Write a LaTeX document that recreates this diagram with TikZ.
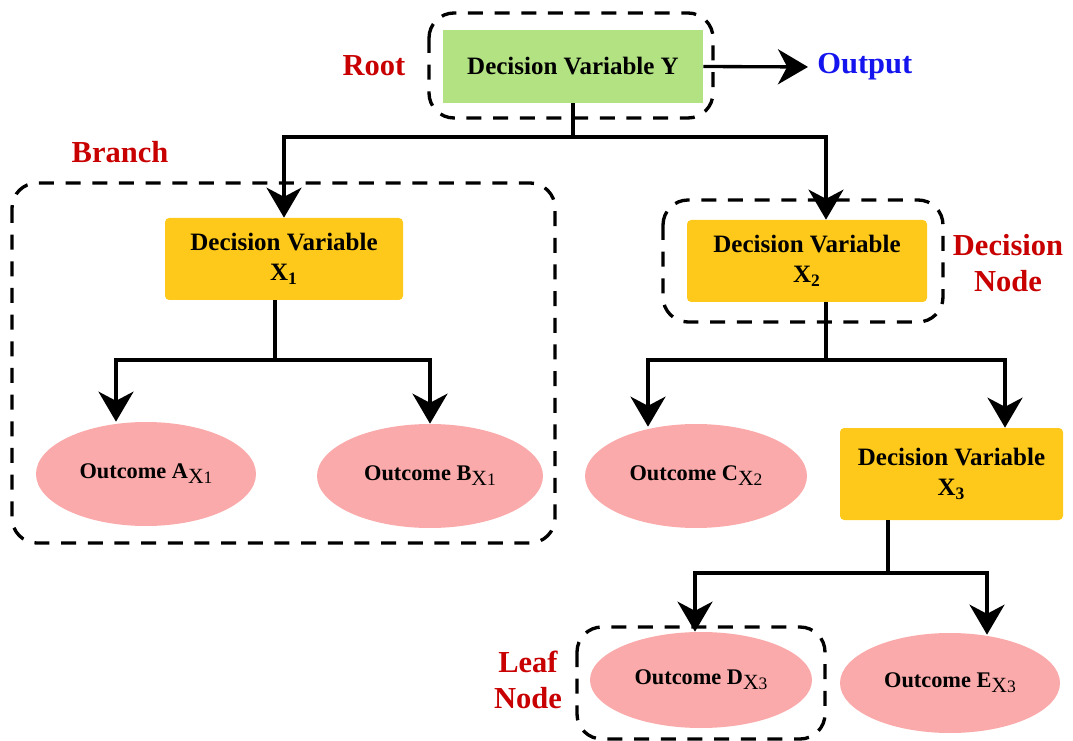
\documentclass[tikz,border=0pt]{standalone}
\usepackage{fontspec}
\setmainfont{Liberation Serif}
\usetikzlibrary{arrows.meta,shapes.geometric,calc}
\definecolor{rootgreen}{RGB}{178,226,130}
\definecolor{dvyellow}{RGB}{254,201,26}
\definecolor{outpink}{RGB}{250,170,170}
\definecolor{lblred}{RGB}{200,0,0}
\definecolor{lblblue}{RGB}{20,20,238}
\newcommand\osub[2]{\raisebox{-0.5ex}{\mdseries\fontsize{13}{13}\selectfont #1\fontsize{10.5}{10.5}\selectfont #2}}
\tikzset{
  dvbox/.style={fill=dvyellow, rounded corners=2.5pt, inner sep=0pt, align=center,
    font=\fontsize{15}{18}\selectfont\bfseries},
  rootbox/.style={fill=rootgreen, inner sep=0pt, minimum width=156pt, minimum height=43.8pt,
    font=\fontsize{15}{18}\selectfont\bfseries},
  outcome/.style={ellipse, fill=outpink, inner sep=0pt, font=\fontsize{13.4}{16}\selectfont\bfseries},
  lbl/.style={text=lblred, align=center, inner sep=0pt, font=\fontsize{18.3}{22}\selectfont\bfseries},
  grp/.style={draw=black, line width=2pt, dash pattern=on 9pt off 7pt, rounded corners=15pt},
  conn/.style={draw=black, line width=2pt},
  arr/.style={conn, -{Stealth[length=18pt, width=21pt, inset=5.5pt]}}
}
\begin{document}
\begin{tikzpicture}[x=0.6pt,y=-0.6pt]
\useasboundingbox (0,0) rectangle (1073,741);
% grouping dashed boxes
\draw[grp] (429,13) rectangle (713,118);
\draw[grp] (12,183) rectangle (555,543);
\draw[grp] (663,200) rectangle (943,322);
\draw[grp] (577,627) rectangle (825,739);
% nodes
\node[rootbox] (root) at (573,66.5) {Decision Variable Y};
\node[dvbox, minimum width=142.8pt, minimum height=49.2pt] (x1) at (284,259) {Decision Variable\\X\textsubscript{1}};
\node[dvbox, minimum width=144pt, minimum height=49.2pt] (x2) at (807,261) {Decision Variable\\X\textsubscript{2}};
\node[dvbox, minimum width=133.8pt, minimum height=55.2pt] (x3) at (951.5,474) {Decision Variable\\X\textsubscript{3}};
\node[outcome, minimum width=132pt, minimum height=62.4pt] (a) at (146,474) {Outcome A\osub{X}{1}};
\node[outcome, minimum width=135.6pt, minimum height=62.4pt] (b) at (430,476) {Outcome B\osub{X}{1}};
\node[outcome, minimum width=133.2pt, minimum height=62.4pt] (c) at (696,476) {Outcome C\osub{X}{2}};
\node[outcome, minimum width=133.2pt, minimum height=57.6pt] (d) at (701,680) {Outcome D\osub{X}{3}};
\node[outcome, minimum width=132pt, minimum height=60pt] (e) at (950,683) {Outcome E\osub{X}{3}};
% labels
\node[lbl] (rootlbl) at (374,66) {Root};
\node[lbl, text=lblblue, anchor=west] (out) at (817,67) {Output};
\node[lbl] (branchlbl) at (120,152) {Branch};
\node[lbl] (declbl) at (1008,263) {Decision\\Node};
\node[lbl] (leaflbl) at (528,680) {Leaf\\Node};
% junctions
\coordinate (j0) at (573,137);
\coordinate (j1) at (275,360);
\coordinate (j2) at (826,360);
\coordinate (j3) at (888,573);
% connectors
\draw[arr, shorten >=5.4pt] (root.east) -- (out.west);
\draw[conn] (root.south) -- (j0);
\draw[arr] (j0) -| (x1.north);
\draw[arr] (j0) -| ($(x2.north)+(19,0)$);
\draw[conn] ($(x1.south)+(-9,0)$) -- (j1);
\draw[arr] (j1) -| ($(a.north)+(-30,0)$);
\draw[arr] (j1) -| (b.north);
\draw[conn] ($(x2.south)+(19,0)$) -- (j2);
\draw[arr] (j2) -| ($(c.north)+(-48,3)$);
\draw[arr] (j2) -| ($(x3.north)+(53.5,0)$);
\draw[conn] ($(x3.south)+(-63.5,0)$) -- (j3);
\draw[arr] (j3) -| ($(d.north)+(-6,0)$);
\draw[arr] (j3) -| ($(e.north)+(37,2)$);
\end{tikzpicture}
\end{document}
